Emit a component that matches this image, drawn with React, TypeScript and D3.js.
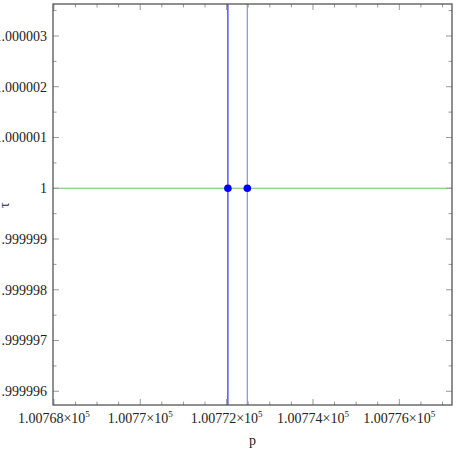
import React, { useEffect, useRef } from "react";
import * as d3 from "d3";

// p values of the two vertical lines / points
const pLines = [100772.03, 100772.48];
const pPoints = [100772.03, 100772.48];
const tauPoints = [1, 1];
const tauLine = 1;
const xTicks = [100768, 100770, 100772, 100774, 100776];
const xTickLabels = ["1.00768", "1.0077", "1.00772", "1.00774", "1.00776"];
const yTicks = [0.999996, 0.999997, 0.999998, 0.999999, 1, 1.000001, 1.000002, 1.000003];
const yTickLabels = [".999996", ".999997", ".999998", ".999999", "1", "1.000001", "1.000002", "1.000003"];

export default function App() {
  const svgRef = useRef<SVGSVGElement>(null);
  const width = 458;
  const height = 454;

  useEffect(() => {
    if (!svgRef.current) return;
    const svg = d3.select(svgRef.current);
    svg.selectAll("*").remove();

    const margin = { top: 4, right: 6, bottom: 49, left: 53 };
    const x = d3
      .scaleLinear()
      .domain([100767.98, 100777.22])
      .range([margin.left, width - margin.right]);
    const y = d3
      .scaleLinear()
      .domain([0.99999573, 1.00000363])
      .range([height - margin.bottom, margin.top]);

    const [x0, x1] = x.range();
    const [y0, y1] = y.range();
    const font = "Liberation Serif, Times New Roman, Times, serif";

    // green horizontal line
    svg
      .append("line")
      .attr("x1", x0)
      .attr("x2", x1)
      .attr("y1", y(tauLine))
      .attr("y2", y(tauLine))
      .attr("stroke", "#66c466")
      .attr("stroke-width", 1.2);

    // vertical lines
    svg
      .selectAll("line.v")
      .data(pLines)
      .enter()
      .append("line")
      .attr("class", "v")
      .attr("x1", (d) => x(d))
      .attr("x2", (d) => x(d))
      .attr("y1", y0)
      .attr("y2", y1)
      .attr("stroke", (d, i) => (i === 0 ? "#2a2aff" : "#8a8aff"))
      .attr("stroke-width", 1.2);

    // points
    svg
      .selectAll("circle")
      .data(pPoints)
      .enter()
      .append("circle")
      .attr("cx", (d) => x(d))
      .attr("cy", (d, i) => y(tauPoints[i]))
      .attr("r", 3.8)
      .attr("fill", "#0000ff");

    // ticks
    const minorX = d3.range(100768, 100777.3, 0.5);
    const minorY = d3.range(0, 16).map((i) => 0.999996 + i * 0.0000005);
    const tickColor = "#999";

    const tg = svg.append("g").attr("stroke", tickColor).attr("stroke-width", 1);
    minorX.forEach((v) => {
      const isMajor = xTicks.some((t) => Math.abs(t - v) < 1e-6);
      const len = isMajor ? 6 : 3.5;
      tg.append("line").attr("x1", x(v)).attr("x2", x(v)).attr("y1", y0).attr("y2", y0 - len);
      tg.append("line").attr("x1", x(v)).attr("x2", x(v)).attr("y1", y1).attr("y2", y1 + len);
    });
    minorY.forEach((v) => {
      if (v > y.domain()[1]) return;
      const isMajor = yTicks.some((t) => Math.abs(t - v) < 1e-9);
      const len = isMajor ? 6 : 3.5;
      tg.append("line").attr("x1", x0).attr("x2", x0 + len).attr("y1", y(v)).attr("y2", y(v));
      tg.append("line").attr("x1", x1).attr("x2", x1 - len).attr("y1", y(v)).attr("y2", y(v));
    });

    // frame
    svg
      .append("rect")
      .attr("x", x0)
      .attr("y", y1)
      .attr("width", x1 - x0)
      .attr("height", y0 - y1)
      .attr("fill", "none")
      .attr("stroke", "#555")
      .attr("stroke-width", 1.3);

    // y tick labels (the long ones run off the left edge, as in the original)
    svg
      .selectAll("text.yt")
      .data(yTicks)
      .enter()
      .append("text")
      .attr("class", "yt")
      .attr("x", x0 - 6)
      .attr("y", (d) => y(d))
      .attr("dy", "0.35em")
      .attr("text-anchor", "end")
      .attr("font-family", font)
      .attr("font-size", 14)
      .attr("fill", "#222")
      .text((d, i) => yTickLabels[i]);

    // x tick labels
    xTicks.forEach((t, i) => {
      const txt = svg
        .append("text")
        .attr("x", x(t))
        .attr("y", y0 + 18)
        .attr("text-anchor", "middle")
        .attr("font-family", font)
        .attr("font-size", 14)
        .attr("fill", "#222");
      txt.append("tspan").text(`${xTickLabels[i]}×10`);
      txt.append("tspan").attr("dy", -6).attr("font-size", 9).text("5");
    });

    // axis labels
    svg
      .append("text")
      .attr("x", (x0 + x1) / 2)
      .attr("y", height - 9)
      .attr("text-anchor", "middle")
      .attr("font-family", font)
      .attr("font-size", 14)
      .attr("fill", "#222")
      .text("p");

    svg
      .append("text")
      .attr("transform", `translate(9,${y(1) + 17}) rotate(-90)`)
      .attr("text-anchor", "middle")
      .attr("font-family", font)
      .attr("font-size", 14)
      .attr("fill", "#222")
      .text("τ");
  }, []);

  return (
    <svg
      ref={svgRef}
      width={width}
      height={height}
      style={{ position: "absolute", left: 0, top: 0, background: "#fff" }}
    ></svg>
  );
}
